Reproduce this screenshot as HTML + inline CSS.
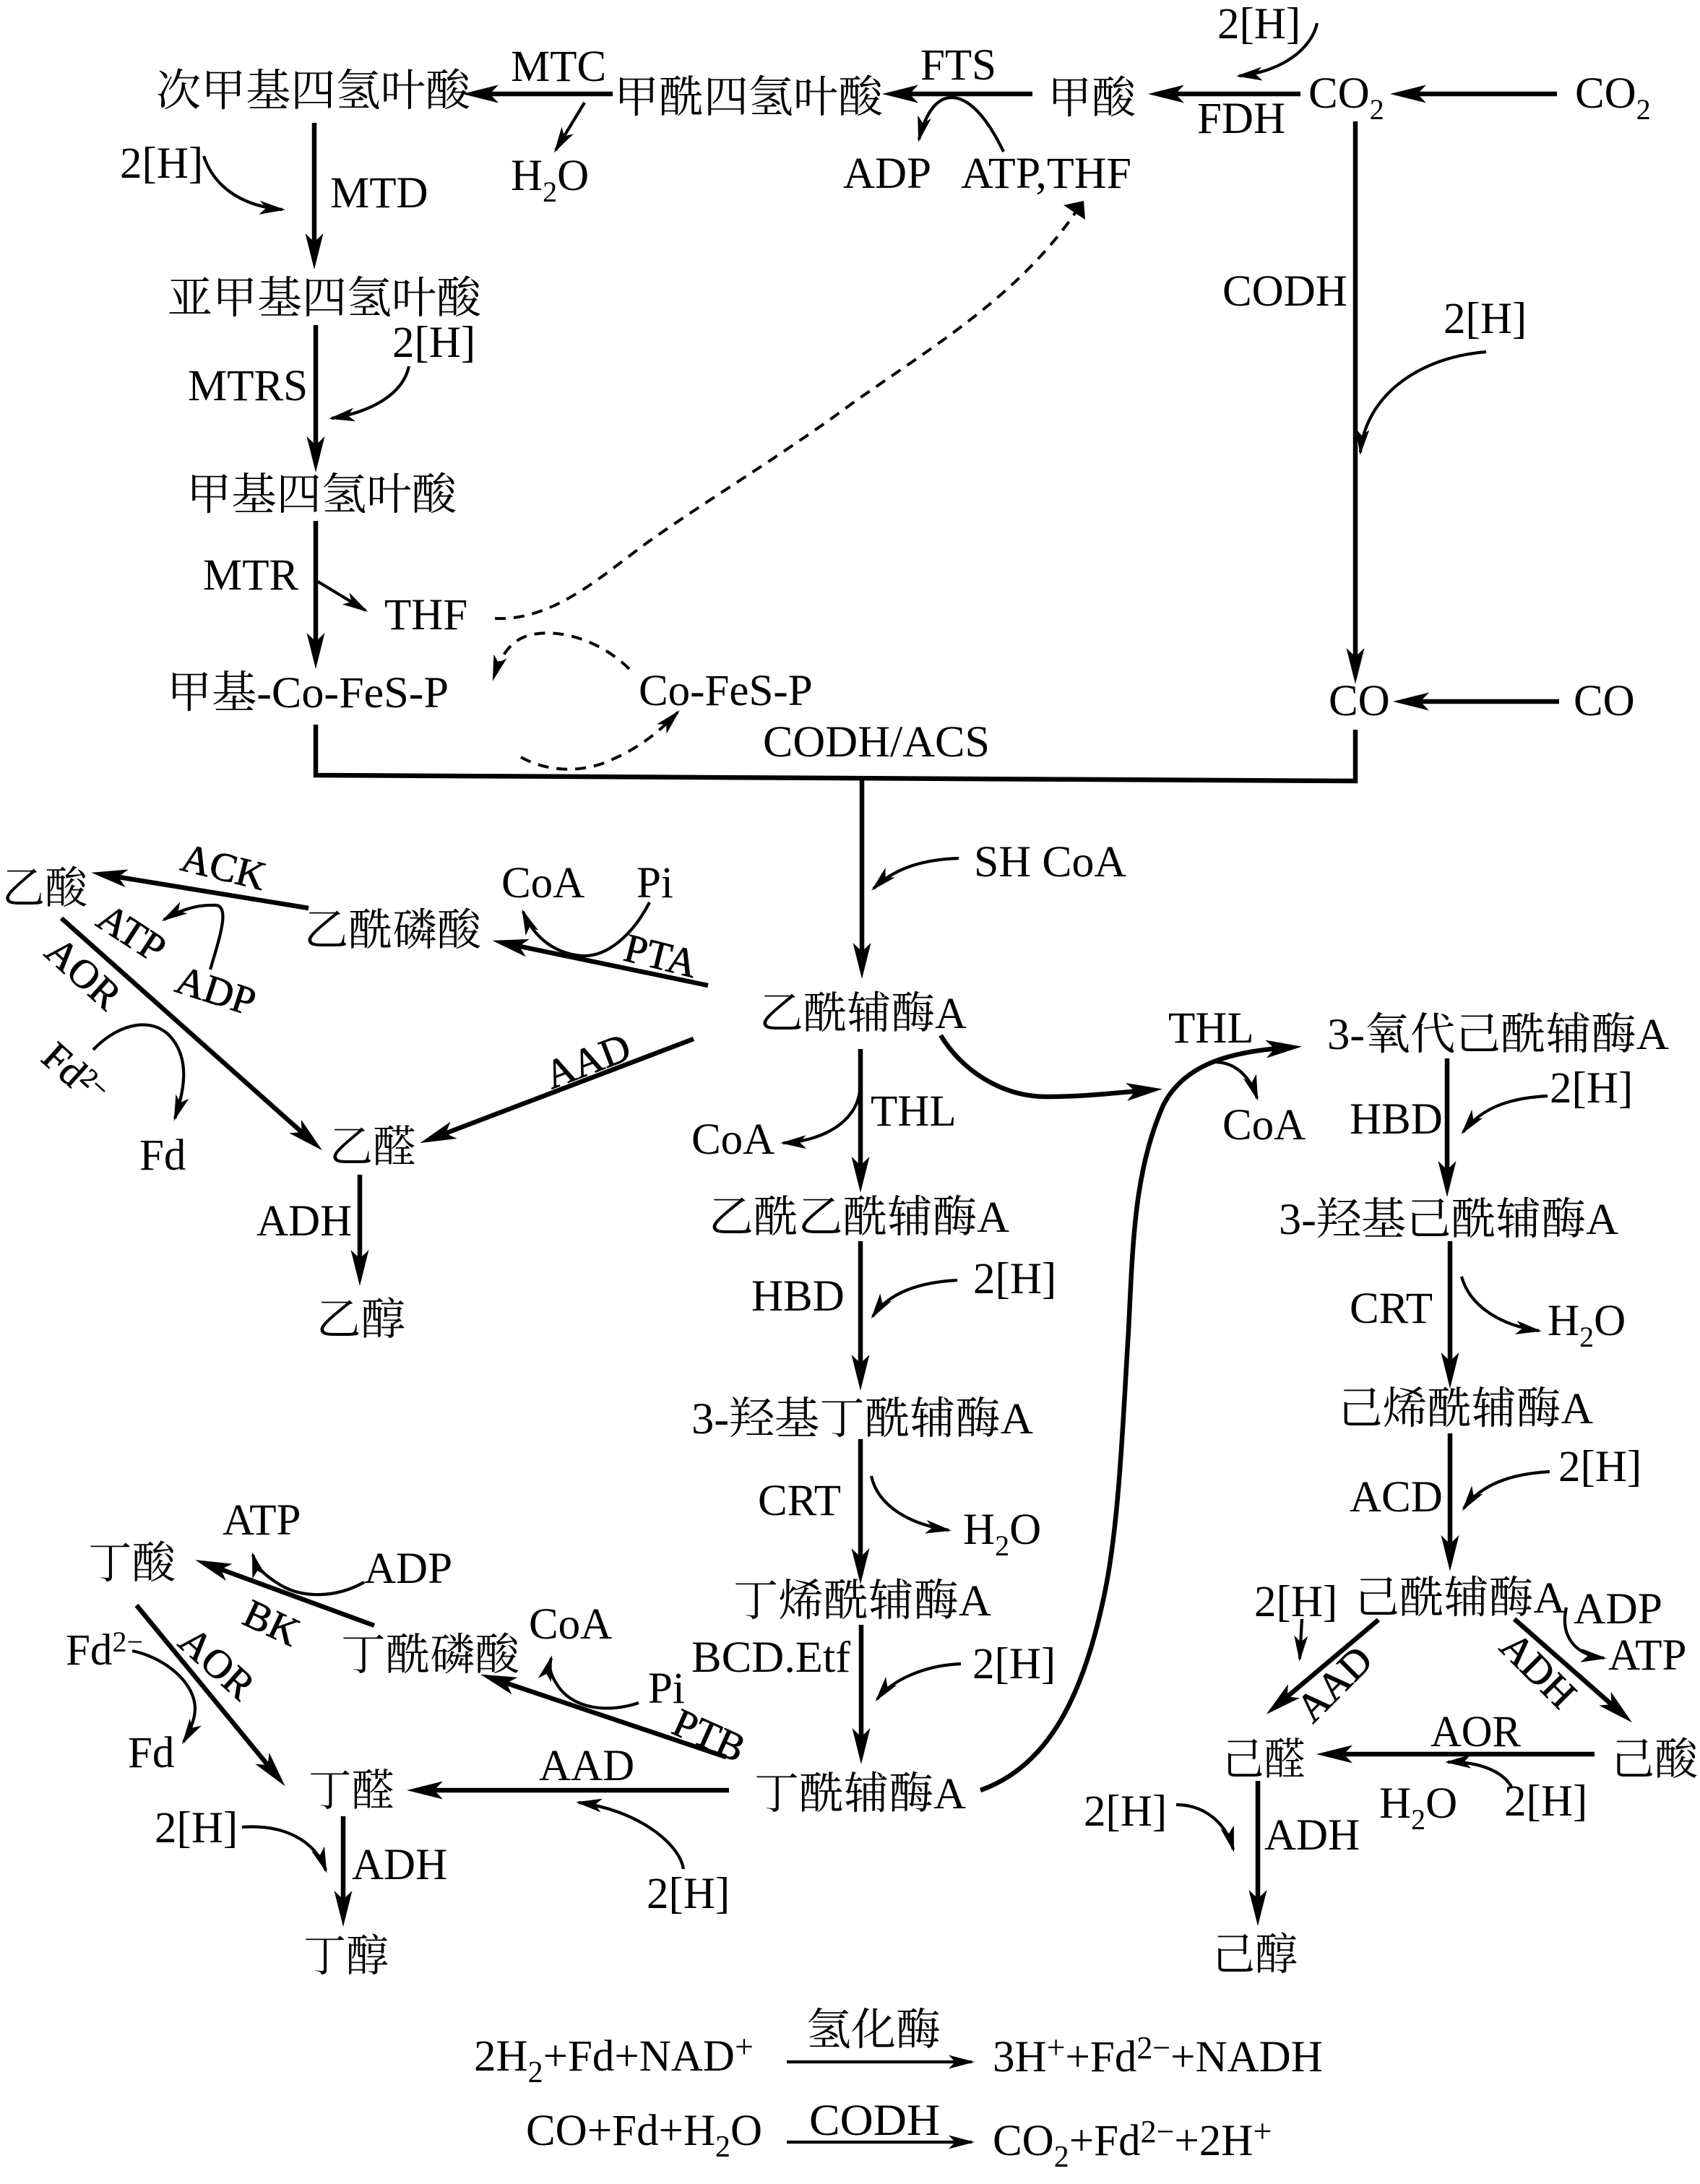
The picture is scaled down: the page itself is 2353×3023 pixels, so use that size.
<!DOCTYPE html>
<html lang="zh">
<head>
<meta charset="utf-8">
<title>Pathway diagram</title>
<style>
html,body{margin:0;padding:0;background:#fff}
svg{display:block}
text{font-family:"Liberation Serif","Noto Serif CJK SC",serif;font-size:61px;fill:#000}
.r{font-size:56px;text-anchor:middle;stroke:#000;stroke-width:.8}
.l{fill:none;stroke:#000;stroke-width:6.5}
.t{fill:none;stroke:#000;stroke-width:4.2}
.d{fill:none;stroke:#000;stroke-width:4;stroke-dasharray:15 11}
</style>
</head>
<body>
<svg xmlns="http://www.w3.org/2000/svg" width="2353" height="3023" viewBox="0 0 2353 3023">
<defs>
<marker id="b" viewBox="0 -13 50 26" markerWidth="50" markerHeight="26" refX="30" refY="0" markerUnits="userSpaceOnUse" orient="auto"><path d="M50,0 L0,-12.5 L12,0 L0,12.5 z"/></marker>
<marker id="s" viewBox="0 -10 36 20" markerWidth="36" markerHeight="20" refX="32" refY="0" markerUnits="userSpaceOnUse" orient="auto"><path d="M36,0 L0,-9.5 L9,0 L0,9.5 z"/></marker>
</defs>
<rect width="2353" height="3023" fill="#fff"/>

<!-- top left -->
<text x="216" y="146" textLength="435" lengthAdjust="spacingAndGlyphs">次甲基四氢叶酸</text>
<text x="707" y="112">MTC</text>
<text x="850" y="155" textLength="372" lengthAdjust="spacingAndGlyphs">甲酰四氢叶酸</text>
<text x="707" y="263">H<tspan font-size="40" dy="16">2</tspan><tspan dy="-16">O</tspan></text>
<text x="166" y="246">2[H]</text>
<text x="457" y="287">MTD</text>
<text x="232" y="433" textLength="434" lengthAdjust="spacingAndGlyphs">亚甲基四氢叶酸</text>
<text x="543" y="494">2[H]</text>
<text x="260" y="554">MTRS</text>
<text x="258" y="705" textLength="374" lengthAdjust="spacingAndGlyphs">甲基四氢叶酸</text>
<text x="281" y="816">MTR</text>
<text x="532" y="871">THF</text>
<text x="231" y="979" textLength="390" lengthAdjust="spacingAndGlyphs">甲基-Co-FeS-P</text>
<text x="884" y="976">Co-FeS-P</text>
<line class="l" x1="848" y1="130" x2="660" y2="130" marker-end="url(#b)"/>
<line class="t" x1="809" y1="142" x2="769" y2="208" marker-end="url(#s)"/>
<path class="t" d="M282 216 C295 255 330 285 391 290" marker-end="url(#s)"/>
<line class="l" x1="435" y1="170" x2="435" y2="353" marker-end="url(#b)"/>
<line class="l" x1="437" y1="450" x2="437" y2="634" marker-end="url(#b)"/>
<path class="t" d="M566 507 C558 545 515 570 459 579" marker-end="url(#s)"/>
<line class="l" x1="437" y1="721" x2="437" y2="906" marker-end="url(#b)"/>
<line class="t" x1="440" y1="805" x2="506" y2="845" marker-end="url(#s)"/>
<path class="d" d="M685 856 C770 860 840 790 903 746 C990 685 1090 625 1180 558 C1290 480 1410 410 1490 292"/>
<path d="M1472 284 L1500 278 L1502 304 Z"/>
<path class="d" d="M871 926 C830 885 770 868 730 880 C705 888 692 910 683 939" marker-end="url(#s)"/>
<path class="d" d="M721 1048 C760 1070 810 1070 850 1050 C890 1032 915 1010 938 986" marker-end="url(#s)"/>

<!-- top right -->
<text x="1685" y="53">2[H]</text>
<path class="t" d="M1823 32 C1815 70 1770 100 1715 105" marker-end="url(#s)"/>
<text x="1274" y="110">FTS</text>
<line class="l" x1="1429" y1="130" x2="1241" y2="130" marker-end="url(#b)"/>
<text x="1450" y="156" textLength="122" lengthAdjust="spacingAndGlyphs">甲酸</text>
<line class="l" x1="1800" y1="130" x2="1609" y2="130" marker-end="url(#b)"/>
<text x="1657" y="184">FDH</text>
<text x="1811" y="149">CO<tspan font-size="40" dy="16">2</tspan></text>
<line class="l" x1="2155" y1="130" x2="1944" y2="130" marker-end="url(#b)"/>
<text x="2180" y="149">CO<tspan font-size="40" dy="16">2</tspan></text>
<text x="1167" y="260">ADP</text>
<text x="1330" y="260" textLength="236" lengthAdjust="spacingAndGlyphs">ATP,THF</text>
<path class="t" d="M1389 210 C1365 160 1340 135 1317 135 C1295 135 1280 160 1272 193" marker-end="url(#s)"/>
<text x="1692" y="423">CODH</text>
<line class="l" x1="1876" y1="168" x2="1876" y2="927" marker-end="url(#b)"/>
<text x="1998" y="461">2[H]</text>
<path class="t" d="M2057 487 C1960 495 1890 550 1883 626" marker-end="url(#s)"/>
<text x="1839" y="990">CO</text>
<line class="l" x1="2158" y1="971" x2="1948" y2="971" marker-end="url(#b)"/>
<text x="2178" y="990">CO</text>
<polyline class="l" points="437,1003 437,1073 1876,1081 1876,1010"/>
<text x="1056" y="1047" textLength="314" lengthAdjust="spacingAndGlyphs">CODH/ACS</text>

<!-- central column -->
<line class="l" x1="1193" y1="1076" x2="1193" y2="1335" marker-end="url(#b)"/>
<text x="1348" y="1213" textLength="211" lengthAdjust="spacingAndGlyphs">SH CoA</text>
<path class="t" d="M1327 1188 C1270 1190 1235 1205 1209 1230" marker-end="url(#s)"/>
<text x="1051" y="1423" textLength="287" lengthAdjust="spacingAndGlyphs">乙酰辅酶A</text>
<text x="1205" y="1558">THL</text>
<line class="l" x1="1191" y1="1452" x2="1191" y2="1631" marker-end="url(#b)"/>
<path class="t" d="M1190 1510 C1185 1555 1135 1580 1084 1582" marker-end="url(#s)"/>
<text x="957" y="1597">CoA</text>
<text x="981" y="1705" textLength="416" lengthAdjust="spacingAndGlyphs">乙酰乙酰辅酶A</text>
<text x="1040" y="1814">HBD</text>
<line class="l" x1="1191" y1="1718" x2="1191" y2="1905" marker-end="url(#b)"/>
<text x="1347" y="1790">2[H]</text>
<path class="t" d="M1325 1772 C1270 1775 1230 1790 1208 1822" marker-end="url(#s)"/>
<text x="957" y="1984" textLength="473" lengthAdjust="spacingAndGlyphs">3-羟基丁酰辅酶A</text>
<line class="l" x1="1191" y1="1992" x2="1191" y2="2173" marker-end="url(#b)"/>
<text x="1049" y="2097">CRT</text>
<path class="t" d="M1206 2043 C1215 2085 1260 2110 1313 2118" marker-end="url(#s)"/>
<text x="1333" y="2137">H<tspan font-size="40" dy="16">2</tspan><tspan dy="-16">O</tspan></text>
<text x="1015" y="2236" textLength="357" lengthAdjust="spacingAndGlyphs">丁烯酰辅酶A</text>
<line class="l" x1="1192" y1="2249" x2="1192" y2="2422" marker-end="url(#b)"/>
<text x="957" y="2314" textLength="220" lengthAdjust="spacingAndGlyphs">BCD.Etf</text>
<text x="1346" y="2323">2[H]</text>
<path class="t" d="M1330 2303 C1280 2305 1235 2325 1214 2352" marker-end="url(#s)"/>
<text x="1044" y="2503" textLength="293" lengthAdjust="spacingAndGlyphs">丁酰辅酶A</text>
<path class="l" d="M1357 2478 C1450 2445 1500 2350 1530 2200 C1550 2100 1555 1950 1562 1842 C1568 1720 1570 1620 1610 1530 C1640 1470 1710 1455 1782 1450" marker-end="url(#b)"/>
<path class="l" d="M1302 1433 C1330 1480 1385 1518 1449 1518 C1500 1518 1540 1513 1589 1509" marker-end="url(#b)"/>

<!-- right column -->
<text x="1617" y="1443">THL</text>
<text x="1837" y="1452" textLength="473" lengthAdjust="spacingAndGlyphs">3-氧代己酰辅酶A</text>
<path class="t" d="M1681 1470 C1710 1470 1730 1490 1740 1520" marker-end="url(#s)"/>
<text x="1692" y="1577">CoA</text>
<line class="l" x1="2003" y1="1465" x2="2003" y2="1637" marker-end="url(#b)"/>
<text x="1868" y="1569">HBD</text>
<text x="2145" y="1526">2[H]</text>
<path class="t" d="M2142 1517 C2085 1520 2050 1535 2025 1567" marker-end="url(#s)"/>
<text x="1770" y="1708" textLength="470" lengthAdjust="spacingAndGlyphs">3-羟基己酰辅酶A</text>
<line class="l" x1="2007" y1="1718" x2="2007" y2="1902" marker-end="url(#b)"/>
<text x="1868" y="1831">CRT</text>
<path class="t" d="M2023 1767 C2035 1810 2080 1835 2130 1842" marker-end="url(#s)"/>
<text x="2142" y="1848">H<tspan font-size="40" dy="16">2</tspan><tspan dy="-16">O</tspan></text>
<text x="1852" y="1970" textLength="353" lengthAdjust="spacingAndGlyphs">己烯酰辅酶A</text>
<line class="l" x1="2007" y1="1984" x2="2007" y2="2155" marker-end="url(#b)"/>
<text x="1868" y="2092">ACD</text>
<text x="2157" y="2050">2[H]</text>
<path class="t" d="M2145 2037 C2090 2040 2050 2055 2026 2088" marker-end="url(#s)"/>
<text x="1875" y="2232" textLength="292" lengthAdjust="spacingAndGlyphs">己酰辅酶A</text>
<text x="1736" y="2237">2[H]</text>
<line class="t" x1="1802" y1="2241" x2="1799" y2="2296" marker-end="url(#s)"/>
<line class="l" x1="1908" y1="2242" x2="1768" y2="2360" marker-end="url(#b)"/>
<text class="r" transform="translate(1860 2344) rotate(-45)">AAD</text>
<line class="l" x1="2096" y1="2241" x2="2244" y2="2371" marker-end="url(#b)"/>
<text class="r" transform="translate(2116 2325) rotate(45)">ADH</text>
<text x="2178" y="2247" textLength="123" lengthAdjust="spacingAndGlyphs">ADP</text>
<text x="2226" y="2311">ATP</text>
<path class="t" d="M2168 2225 C2160 2260 2175 2290 2220 2295" marker-end="url(#s)"/>
<text x="1692" y="2456" textLength="115" lengthAdjust="spacingAndGlyphs">己醛</text>
<text x="2230" y="2456" textLength="120" lengthAdjust="spacingAndGlyphs">己酸</text>
<line class="l" x1="2207" y1="2428" x2="1842" y2="2428" marker-end="url(#b)"/>
<text x="1980" y="2417" textLength="125" lengthAdjust="spacingAndGlyphs">AOR</text>
<text x="1909" y="2516">H<tspan font-size="40" dy="16">2</tspan><tspan dy="-16">O</tspan></text>
<text x="2082" y="2513">2[H]</text>
<path class="t" d="M2092 2473 C2077 2448 2040 2438 2004 2439" marker-end="url(#s)"/>
<text x="1500" y="2527">2[H]</text>
<path class="t" d="M1628 2498 C1667 2498 1697 2523 1707 2560" marker-end="url(#s)"/>
<line class="l" x1="1741" y1="2465" x2="1741" y2="2646" marker-end="url(#b)"/>
<text x="1750" y="2560">ADH</text>
<text x="1678" y="2726" textLength="118" lengthAdjust="spacingAndGlyphs">己醇</text>

<!-- middle left -->
<text x="3" y="1250" textLength="118" lengthAdjust="spacingAndGlyphs">乙酸</text>
<text class="r" transform="translate(305 1218) rotate(14)">ACK</text>
<line class="l" x1="427" y1="1257" x2="146" y2="1211" marker-end="url(#b)"/>
<text x="421" y="1308" textLength="245" lengthAdjust="spacingAndGlyphs">乙酰磷酸</text>
<text x="694" y="1242">CoA</text>
<text x="881" y="1242">Pi</text>
<path class="t" d="M899 1249 C875 1295 840 1325 805 1323 C770 1320 740 1300 724 1262" marker-end="url(#s)"/>
<line class="l" x1="980" y1="1364" x2="701" y2="1306" marker-end="url(#b)"/>
<text class="r" transform="translate(910 1341) rotate(14)">PTA</text>
<text class="r" transform="translate(172 1307) rotate(33)">ATP</text>
<text class="r" transform="translate(293 1389) rotate(18)">ADP</text>
<path class="t" d="M291 1342 C305 1295 320 1250 295 1253 C270 1252 245 1262 227 1273" marker-end="url(#s)"/>
<text class="r" transform="translate(103 1361) rotate(42)">AOR</text>
<line class="l" x1="85" y1="1271" x2="431" y2="1579" marker-end="url(#b)"/>
<text class="r" transform="translate(91 1500) rotate(42)">Fd<tspan font-size="36" dy="-16">2−</tspan></text>
<path class="t" d="M129 1453 C165 1415 215 1405 240 1440 C262 1470 255 1510 242 1548" marker-end="url(#s)"/>
<text x="193" y="1619">Fd</text>
<text x="456" y="1608" textLength="120" lengthAdjust="spacingAndGlyphs">乙醛</text>
<line class="l" x1="960" y1="1438" x2="600" y2="1575" marker-end="url(#b)"/>
<text class="r" transform="translate(820 1486) rotate(-21)">AAD</text>
<text x="355" y="1710">ADH</text>
<line class="l" x1="498" y1="1626" x2="498" y2="1760" marker-end="url(#b)"/>
<text x="438" y="1847" textLength="123" lengthAdjust="spacingAndGlyphs">乙醇</text>

<!-- lower left -->
<text x="122" y="2184" textLength="121" lengthAdjust="spacingAndGlyphs">丁酸</text>
<text x="308" y="2124">ATP</text>
<text x="504" y="2191">ADP</text>
<path class="t" d="M504 2190 C465 2212 420 2212 390 2195 C365 2180 355 2170 350 2152" marker-end="url(#s)"/>
<line class="l" x1="518" y1="2250" x2="289" y2="2166" marker-end="url(#b)"/>
<text class="r" transform="translate(368 2263) rotate(25)">BK</text>
<text x="472" y="2311" textLength="247" lengthAdjust="spacingAndGlyphs">丁酰磷酸</text>
<text x="732" y="2268">CoA</text>
<text x="897" y="2357">Pi</text>
<path class="t" d="M884 2357 C840 2372 790 2365 770 2330 C760 2315 760 2305 763 2295" marker-end="url(#s)"/>
<line class="l" x1="1005" y1="2432" x2="684" y2="2324" marker-end="url(#b)"/>
<text class="r" transform="translate(974 2419) rotate(24)">PTB</text>
<line class="l" x1="1009" y1="2478" x2="583" y2="2478" marker-end="url(#b)"/>
<text x="746" y="2464">AAD</text>
<text x="427" y="2499" textLength="119" lengthAdjust="spacingAndGlyphs">丁醛</text>
<path class="t" d="M946 2587 C940 2550 880 2505 801 2495" marker-end="url(#s)"/>
<text x="895" y="2641">2[H]</text>
<line class="l" x1="189" y1="2222" x2="382" y2="2457" marker-end="url(#b)"/>
<text class="r" transform="translate(288 2316) rotate(42)">AOR</text>
<text x="91" y="2304">Fd<tspan font-size="40" dy="-18">2−</tspan></text>
<path class="t" d="M183 2285 C230 2295 270 2330 270 2365 C270 2380 262 2398 254 2411" marker-end="url(#s)"/>
<text x="177" y="2446">Fd</text>
<text x="214" y="2550">2[H]</text>
<path class="t" d="M335 2529 C390 2525 435 2545 451 2589" marker-end="url(#s)"/>
<line class="l" x1="475" y1="2514" x2="475" y2="2647" marker-end="url(#b)"/>
<text x="487" y="2601">ADH</text>
<text x="420" y="2728" textLength="118" lengthAdjust="spacingAndGlyphs">丁醇</text>

<!-- equations -->
<text x="656" y="2866">2H<tspan font-size="42" dy="16">2</tspan><tspan dy="-16">+Fd+NAD</tspan><tspan font-size="46" dy="-18">+</tspan></text>
<text x="1116" y="2830" textLength="186" lengthAdjust="spacingAndGlyphs">氢化酶</text>
<line class="t" x1="1089" y1="2854" x2="1345" y2="2854" marker-end="url(#s)"/>
<text x="1374" y="2867">3H<tspan font-size="46" dy="-18">+</tspan><tspan dy="18">+Fd</tspan><tspan font-size="44" dy="-18">2−</tspan><tspan dy="18">+NADH</tspan></text>
<text x="728" y="2969">CO+Fd+H<tspan font-size="42" dy="16">2</tspan><tspan dy="-16">O</tspan></text>
<text x="1120" y="2955" textLength="181" lengthAdjust="spacingAndGlyphs">CODH</text>
<line class="t" x1="1089" y1="2965" x2="1345" y2="2965" marker-end="url(#s)"/>
<text x="1374" y="2983">CO<tspan font-size="42" dy="16">2</tspan><tspan dy="-16">+Fd</tspan><tspan font-size="44" dy="-18">2−</tspan><tspan dy="18">+2H</tspan><tspan font-size="46" dy="-18">+</tspan></text>
</svg>
</body>
</html>
